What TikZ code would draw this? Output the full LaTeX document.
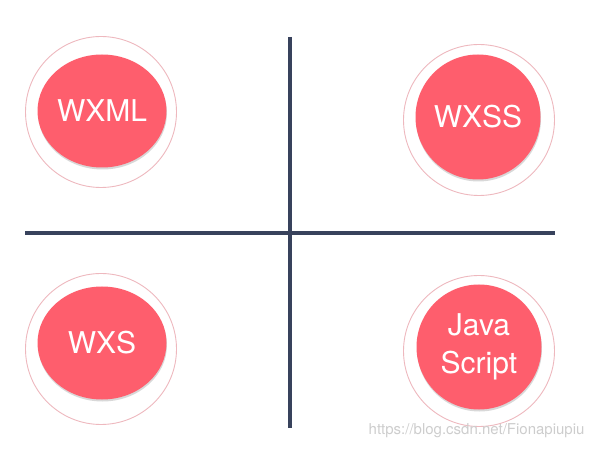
\documentclass[tikz,border=0pt]{standalone}
\usepackage{fontspec}
\newfontfamily\heros{TeX Gyre Heros}
\usetikzlibrary{shapes.geometric,shadows}
\definecolor{roseWX}{RGB}{254,94,109}
\definecolor{anneauWX}{RGB}{238,184,190}
\definecolor{axeWX}{RGB}{56,66,92}
\definecolor{filigrane}{RGB}{205,205,205}

\begin{document}
\begin{tikzpicture}[x=1pt,y=-1pt,
        ring/.style={circle,draw=anneauWX,line width=0.9pt,fill=white,minimum size=151pt,inner sep=0pt},
        disc/.style={circle,fill=roseWX,minimum size=125pt,inner sep=0pt,
          text=white,font=\heros\fontsize{30}{38}\selectfont,align=center,
          drop shadow={opacity=0.3,shadow xshift=0.5pt,shadow yshift=-2pt}},
        flatdisc/.style={disc,ellipse,minimum width=129pt,minimum height=113pt},
        axis/.style={draw=axeWX,line width=3.2pt}
      ]
        \useasboundingbox (0,0) rectangle (595,449);

        % Les deux axes qui partagent la page en quatre.
        \coordinate (vtop) at (290,37);
        \coordinate (vbot) at (290,428);
        \coordinate (hleft) at (25,233);
        \coordinate (hright) at (555,233);
        \draw[axis] (vtop) -- (vbot);
        \draw[axis] (hleft) -- (hright);

        % Haut : WXML et WXSS.
        \node[ring] (wxmlring) at (101,112) {};
        \node[flatdisc] (wxml) at (102,111) {WXML};
        \node[ring] (wxssring) at (479,120) {};
        \node[disc] (wxss) at (478,117) {WXSS};

        % Bas : WXS et JavaScript.
        \node[ring] (wxsring) at (101,349) {};
        \node[flatdisc] (wxs) at (102,343) {WXS};
        \node[ring] (jsring) at (479,351) {};
        \node[disc] (js) at (479,347) {Java\\Script};

        \node[font=\heros\fontsize{15}{18}\selectfont,text=filigrane,anchor=east]
          (source) at (588,431) {https://blog.csdn.net/Fionapiupiu};
      \end{tikzpicture}
\end{document}
